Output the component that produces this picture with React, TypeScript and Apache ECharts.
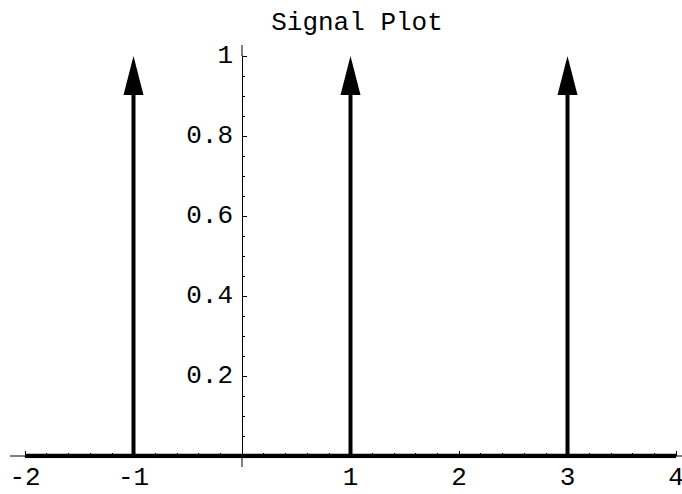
import React, { useEffect, useRef } from "react";
import * as echarts from "echarts";

// Impulse train: positions and amplitudes of the arrows
const impulseT: number[] = [-1, 1, 3];
const impulseA: number[] = [1, 1, 1];
// Time-axis domain of the signal baseline
const domainT: number[] = [-2, 4];
// Axis ranges
const xRange: number[] = [-2, 4];
const yRange: number[] = [0, 1];
const title = "Signal Plot";

const FONT = "'Liberation Mono', 'DejaVu Sans Mono', monospace";

export default function App() {
  const ref = useRef<HTMLDivElement>(null);

  useEffect(() => {
    if (!ref.current) return;
    const chart = echarts.init(ref.current, undefined, { renderer: "svg" });

    const headLen = 39;
    const headHalf = 10;

    const option: any = {
      animation: false,
      backgroundColor: "#ffffff",
      title: {
        text: title,
        left: 352,
        top: 5,
        textAlign: "center",
        textStyle: { fontFamily: FONT, fontSize: 26, fontWeight: "normal", color: "#000" },
      },
      grid: { left: 25, right: 6, top: 56, bottom: 38, containLabel: false, outerBoundsMode: "none" },
      xAxis: {
        type: "value",
        min: xRange[0],
        max: xRange[1],
        interval: 1,
        splitLine: { show: false },
        axisLine: { show: true, onZero: true, lineStyle: { color: "#000", width: 1 } },
        axisTick: { show: true, inside: true, length: 5, lineStyle: { color: "#000", width: 1 } },
        minorTick: { show: true, splitNumber: 5, length: 3, lineStyle: { color: "#000", width: 1 } },
        axisLabel: {
          color: "#000",
          fontFamily: FONT,
          fontSize: 26,
          margin: 9,
          hideOverlap: false,
          formatter: (v: number) => (v === 0 ? "" : String(v)),
        },
      },
      yAxis: {
        type: "value",
        min: yRange[0],
        max: yRange[1],
        interval: 0.2,
        offset: 0,
        splitLine: { show: false },
        axisLine: { show: true, onZero: false, lineStyle: { color: "#000", width: 1 } },
        axisTick: { show: true, inside: true, length: 5, lineStyle: { color: "#000", width: 1 } },
        minorTick: { show: true, splitNumber: 4, length: 3, lineStyle: { color: "#000", width: 1 } },
        axisLabel: {
          color: "#000",
          fontFamily: FONT,
          fontSize: 26,
          margin: 9,
          hideOverlap: false,
          formatter: (v: number) => (v === 0 ? "" : String(Math.round(v * 10) / 10)),
        },
      },
      series: [
        {
          type: "line",
          data: domainT.map((t) => [t, 0]),
          symbol: "none",
          lineStyle: { color: "#000", width: 4.5 },
          z: 3,
        },
        {
          type: "custom",
          data: impulseT.map((t, i) => [t, impulseA[i]]),
          z: 4,
          renderItem: (params: any, api: any) => {
            const t = api.value(0);
            const a = api.value(1);
            const p0 = api.coord([t, 0]);
            const p1 = api.coord([t, a]);
            return {
              type: "group",
              children: [
                {
                  type: "line",
                  shape: { x1: p0[0], y1: p0[1], x2: p0[0], y2: p1[1] + headLen - 1 },
                  style: { stroke: "#000", lineWidth: 4 },
                },
                {
                  type: "polygon",
                  shape: {
                    points: [
                      [p1[0], p1[1]],
                      [p1[0] - headHalf, p1[1] + headLen],
                      [p1[0] + headHalf, p1[1] + headLen],
                    ],
                  },
                  style: { fill: "#000" },
                },
              ],
            };
          },
        },
      ],
    };

    chart.setOption(option);

    // Place the vertical axis (line, ticks and labels) at t = 0
    const left = chart.convertToPixel({ gridIndex: 0 }, [xRange[0], 0]) as number[];
    const right = chart.convertToPixel({ gridIndex: 0 }, [xRange[1], 0]) as number[];
    const top = chart.convertToPixel({ gridIndex: 0 }, [0, yRange[1]]) as number[];
    const bottom = chart.convertToPixel({ gridIndex: 0 }, [0, yRange[0]]) as number[];
    const shift = top[0] - left[0];

    // Extend the thin axis lines a little past the plotted range
    const thin = { stroke: "#000", lineWidth: 1 };
    chart.setOption({
      yAxis: { offset: -shift },
      graphic: [
        { type: "line", shape: { x1: left[0] - 15, y1: left[1], x2: left[0], y2: left[1] }, style: thin, z: 10 },
        { type: "line", shape: { x1: right[0], y1: right[1], x2: 682, y2: right[1] }, style: thin, z: 10 },
        { type: "line", shape: { x1: top[0], y1: top[1] - 11, x2: top[0], y2: top[1] }, style: thin, z: 10 },
        { type: "line", shape: { x1: bottom[0], y1: bottom[1], x2: bottom[0], y2: bottom[1] + 11 }, style: thin, z: 10 },
      ],
    });

    return () => chart.dispose();
  }, []);

  return (
    <div
      ref={ref}
      style={{ position: "fixed", left: 0, top: 0, width: 682, height: 494, background: "#fff" }}
    />
  );
}
